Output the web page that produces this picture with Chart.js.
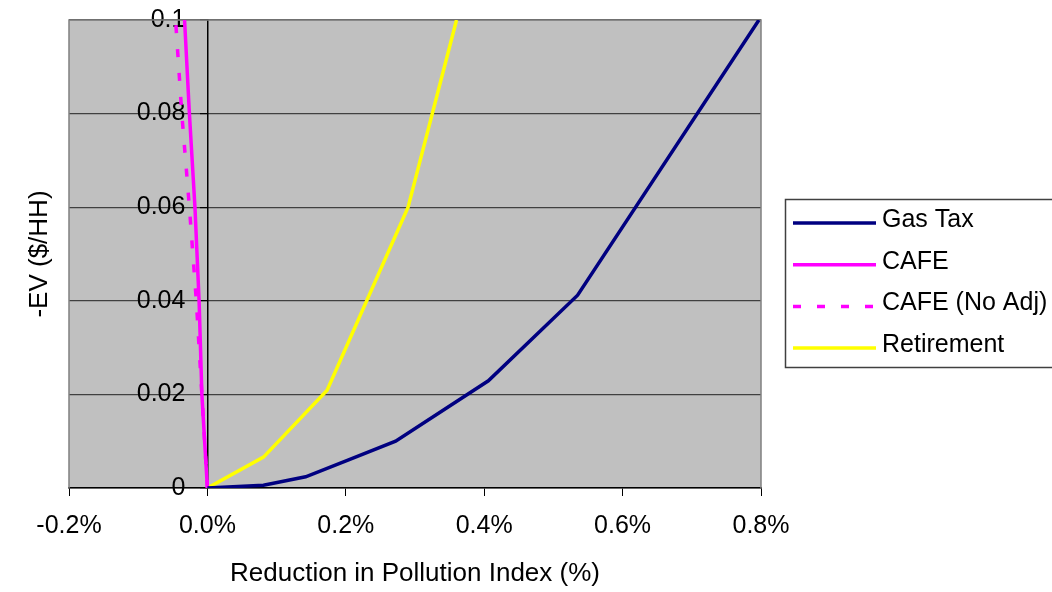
<!DOCTYPE html>
<html>
<head>
<meta charset="utf-8">
<script src="https://cdn.jsdelivr.net/npm/chart.js@4.4.1/dist/chart.umd.min.js"></script>
<style>
  html, body { margin: 0; padding: 0; background: #fff; }
  canvas { display: block; }
</style>
</head>
<body>
<canvas id="chart" width="1052" height="592"></canvas>
<script>
// ── Data ───────────────────────────────────────────────
// x = reduction in pollution index (%), y = -EV ($/HH)
const GAS_X   = [0, 0.081, 0.142, 0.204, 0.272, 0.406, 0.535, 0.797];
const GAS_Y   = [0, 0.0006, 0.0024, 0.006, 0.010, 0.0229, 0.0412, 0.1];
const CAFE_X  = [0, -0.008, -0.012, -0.018, -0.026, -0.033];
const CAFE_Y  = [0, 0.02, 0.04, 0.06, 0.08, 0.1];
const NOADJ_X = [0, -0.008, -0.016, -0.026, -0.037, -0.046];
const NOADJ_Y = [0, 0.02, 0.04, 0.06, 0.08, 0.1];
const RET_X   = [0, 0.081, 0.173, 0.29, 0.36];
const RET_Y   = [0, 0.0066, 0.0209, 0.06, 0.1];

const X_TICKS = [-0.2, 0, 0.2, 0.4, 0.6, 0.8];
const Y_TICKS = [0, 0.02, 0.04, 0.06, 0.08, 0.1];

const FONT_FAMILY = '"Liberation Sans", Arial, sans-serif';
const tickFont  = { family: FONT_FAMILY, size: 25 };
const titleFont = { family: FONT_FAMILY, size: 26 };

const pts = (xs, ys) => xs.map((x, i) => ({ x, y: ys[i] }));
const yTicks = s => { s.ticks = Y_TICKS.map(v => ({ value: v })); };

// ── Grey plot area + frame ─────────────────────────────
const plotFrame = {
  id: 'plotFrame',
  beforeDraw(chart) {
    const { ctx, chartArea: a } = chart;
    ctx.save();
    ctx.fillStyle = '#C0C0C0';
    ctx.fillRect(a.left, a.top, a.right - a.left, a.bottom - a.top);
    ctx.restore();
  },
  beforeDatasetsDraw(chart) {
    const { ctx, chartArea: a } = chart;
    ctx.save();
    ctx.strokeStyle = '#808080';
    ctx.lineWidth = 1.5;
    ctx.beginPath();
    ctx.moveTo(a.left, a.bottom);
    ctx.lineTo(a.left, a.top);
    ctx.lineTo(a.right, a.top);
    ctx.lineTo(a.right, a.bottom);
    ctx.stroke();
    ctx.restore();
  }
};

// ── Boxed legend on the right (clipped like the original) ──
const boxLegend = {
  id: 'boxLegend',
  afterDraw(chart) {
    const ctx = chart.ctx;
    ctx.save();
    ctx.strokeStyle = '#404040';
    ctx.lineWidth = 1.5;
    ctx.strokeRect(785.5, 199.5, 300, 168);
    chart.data.datasets.forEach((ds, i) => {
      const y = 223 + i * 41.7;
      ctx.beginPath();
      ctx.setLineDash(ds.borderDash || []);
      ctx.strokeStyle = ds.borderColor;
      ctx.lineWidth = ds.borderWidth;
      ctx.moveTo(793, y);
      ctx.lineTo(876, y);
      ctx.stroke();
      ctx.setLineDash([]);
      ctx.fillStyle = '#000';
      ctx.font = '25px ' + FONT_FAMILY;
      ctx.textBaseline = 'middle';
      ctx.fillText(ds.label, 882, y - 3);
    });
    ctx.restore();
  }
};

new Chart(document.getElementById('chart').getContext('2d'), {
  type: 'line',
  data: {
    datasets: [
      { label: 'Gas Tax',       data: pts(GAS_X, GAS_Y),     borderColor: '#000080', borderWidth: 3.5 },
      { label: 'CAFE',          data: pts(CAFE_X, CAFE_Y),   borderColor: '#FF00FF', borderWidth: 3.5 },
      { label: 'CAFE (No Adj)', data: pts(NOADJ_X, NOADJ_Y), borderColor: '#FF00FF', borderWidth: 3.5, borderDash: [8, 16] },
      { label: 'Retirement',    data: pts(RET_X, RET_Y),     borderColor: '#FFFF00', borderWidth: 3.5 }
    ]
  },
  options: {
    responsive: false,
    devicePixelRatio: 1,
    animation: false,
    layout: { padding: { left: 0, top: 20, right: 291, bottom: 0 } },
    elements: { point: { radius: 0 }, line: { tension: 0, fill: false, borderCapStyle: 'butt' } },
    plugins: { legend: { display: false }, tooltip: { enabled: false } },
    scales: {
      x: {
        type: 'linear', position: 'bottom', min: -0.2, max: 0.8,
        afterBuildTicks: s => { s.ticks = X_TICKS.map(v => ({ value: v })); },
        afterFit: s => { s.height = 104; },
        ticks: {
          font: tickFont, color: '#000', padding: 15, maxRotation: 0, autoSkip: false,
          callback: v => (Math.abs(v) < 1e-9 ? 0 : v).toFixed(1) + '%'
        },
        grid: { drawOnChartArea: false, drawTicks: true, tickLength: 8, color: '#000' },
        border: { color: '#000', width: 1.5 },
        title: { display: true, text: 'Reduction in Pollution Index (%)', font: titleFont, color: '#000', padding: { top: 0, bottom: 3 } }
      },
      // value axis crossing at x = 0: line, tick marks and grid
      y: {
        type: 'linear', position: { x: 0 }, min: 0, max: 0.1,
        afterBuildTicks: yTicks,
        ticks: { display: false },
        grid: { color: '#404040', lineWidth: 1.2, tickLength: 7, tickColor: '#000' },
        border: { color: '#000', width: 1.5 }
      },
      // tick labels for the same axis, set off to the left of the x = 0 line
      yLab: {
        type: 'linear', position: { x: -0.0318 }, min: 0, max: 0.1,
        afterBuildTicks: yTicks,
        ticks: { font: tickFont, color: '#000', callback: v => String(+v.toFixed(2)) },
        grid: { display: false },
        border: { display: false }
      },
      yTitle: {
        type: 'linear', position: 'left', display: true,
        afterFit: s => { s.width = 69; },
        ticks: { display: false },
        grid: { display: false },
        border: { display: false },
        title: { display: true, text: '-EV ($/HH)', font: titleFont, color: '#000', padding: { top: 24, bottom: 0 } }
      }
    }
  },
  plugins: [plotFrame, boxLegend]
});
</script>
</body>
</html>
